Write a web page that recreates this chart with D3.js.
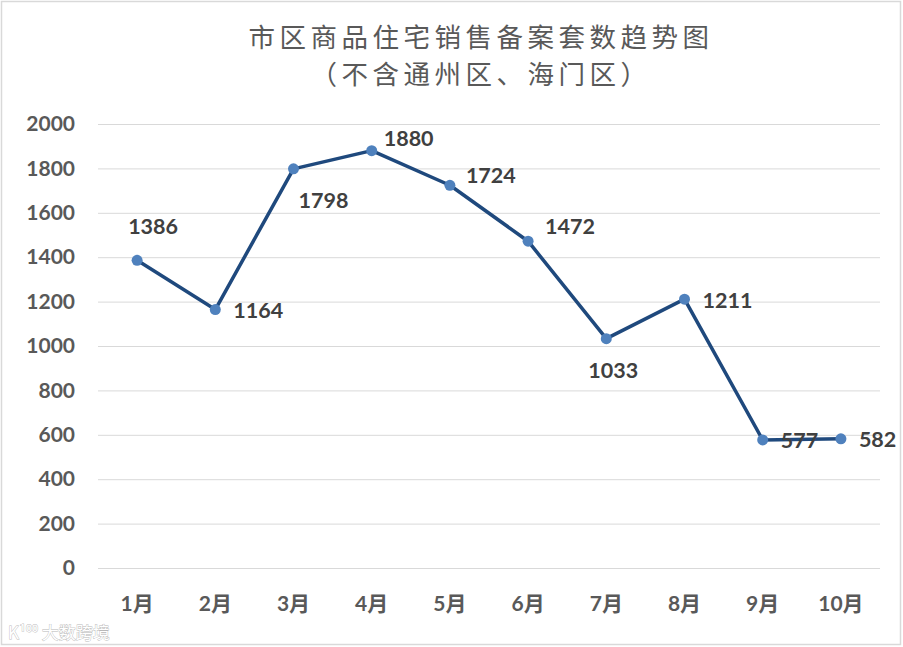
<!DOCTYPE html>
<html><head><meta charset="utf-8">
<script src="https://cdn.jsdelivr.net/npm/d3@7/dist/d3.min.js"></script>
<style>body{margin:0;background:#fff}svg{display:block}</style>
</head><body>
<svg id="c" width="903" height="647"></svg>
<script>
const months = ["1月","2月","3月","4月","5月","6月","7月","8月","9月","10月"];
const values = [1386,1164,1798,1880,1724,1472,1033,1211,577,582];
const yTicks = [0,200,400,600,800,1000,1200,1400,1600,1800,2000];
const titleLines = ["市区商品住宅销售备案套数趋势图","（不含通州区、海门区）"];
// label layout offsets (dx from point, dy of text centre from point, anchor)
const labelLayout = [
  {dx:16, dy:-34, a:"middle"},
  {dx:18, dy:1, a:"start"},
  {dx:30, dy:32, a:"middle"},
  {dx:12, dy:-12, a:"start"},
  {dx:16, dy:-10, a:"start"},
  {dx:17, dy:-15, a:"start"},
  {dx:7, dy:32, a:"middle"},
  {dx:18, dy:1, a:"start"},
  {dx:18, dy:1, a:"start"},
  {dx:18, dy:1, a:"start"}
];

const svg = d3.select("#c");
svg.append("rect").attr("x",1.5).attr("y",1.5).attr("width",899).attr("height",643)
  .attr("fill","#fff").attr("stroke","#d9d9d9").attr("stroke-width",1.5);

const x = d3.scaleBand().domain(months).range([98,880]);
const y = d3.scaleLinear().domain([0,2000]).range([568,124]);

// title
svg.append("g").selectAll("text").data(titleLines).join("text")
  .attr("x",481).attr("y",(d,i)=>47+i*37)
  .attr("text-anchor","middle")
  .attr("font-family","'Noto Sans CJK SC'")
  .attr("font-size",26.5).attr("letter-spacing",4.5)
  .attr("fill","#595959").text(d=>d);

// gridlines
const yAxis = d3.axisLeft(y).tickValues(yTicks).tickFormat(d3.format("d"))
  .tickSize(-(880-98)).tickPadding(23);
const ga = svg.append("g").attr("transform","translate(98,0)").call(yAxis);
ga.select(".domain").remove();
ga.selectAll(".tick line").attr("stroke","#d9d9d9").attr("stroke-width",1);
ga.selectAll(".tick text").attr("font-family","Lato").attr("font-weight","bold")
  .attr("font-size",21).attr("fill","#595959");

const xAxis = d3.axisBottom(x).tickSize(0).tickPadding(28);
const gx = svg.append("g").attr("transform","translate(0,568)").call(xAxis);
gx.select(".domain").remove();
gx.selectAll(".tick text").attr("font-family","Lato, 'Noto Sans CJK SC'").attr("font-weight","bold")
  .attr("font-size",21).attr("fill","#595959");

const cx = (d,i)=>x(months[i])+x.bandwidth()/2;
const line = d3.line().x(cx).y(d=>y(d));
svg.append("path").datum(values).attr("d",line).attr("fill","none")
  .attr("stroke","#1f497d").attr("stroke-width",3.5).attr("stroke-linejoin","round");
svg.append("g").selectAll("circle").data(values).join("circle")
  .attr("cx",cx).attr("cy",d=>y(d)).attr("r",5.5).attr("fill","#4f81bd");

svg.append("g").selectAll("text").data(values).join("text")
  .attr("x",(d,i)=>cx(d,i)+labelLayout[i].dx)
  .attr("y",(d,i)=>y(d)+labelLayout[i].dy)
  .attr("dy","0.35em")
  .attr("text-anchor",(d,i)=>labelLayout[i].a)
  .attr("font-family","Lato").attr("font-weight","bold").attr("font-size",21.5)
  .attr("fill","#404040").text(d=>d);

// watermark
svg.append("text").attr("x",8).attr("y",639)
  .attr("font-family","'Noto Sans CJK SC'").attr("font-size",17)
  .attr("fill","#fff").attr("stroke","#b8b8b8").attr("stroke-width",0.8)
  .attr("paint-order","stroke").text("K\u00B9\u2070\u2070 大数跨境");
</script>
</body></html>
